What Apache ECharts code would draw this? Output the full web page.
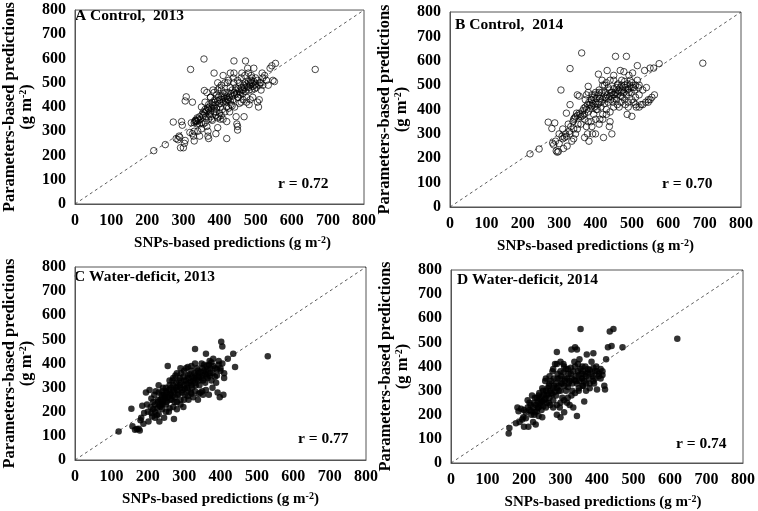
<!DOCTYPE html>
<html><head><meta charset="utf-8">
<script src="https://cdn.jsdelivr.net/npm/echarts@6/dist/echarts.min.js"></script>
<style>html,body{margin:0;padding:0;background:#fff}#c{width:758px;height:511px}</style>
</head><body><div id="c"></div>
<script>
var ticks = [0,100,200,300,400,500,600,700,800];
var panelTitles = ['A Control,  2013','B Control,  2014','C Water-deficit, 2013','D Water-deficit, 2014'];
var rValues = ['r = 0.72','r = 0.70','r = 0.77','r = 0.74'];

var ptsA = [[218,220],[250,245],[272,338],[280,270],[285,265],[288,280],[290,275],[292,232],[295,340],[297,325],[300,232],[303,250],[305,262],[305,425],[308,442],[318,295],[320,555],[322,335],[325,420],[325,290],[328,280],[330,300],[330,260],[332,340],[335,345],[338,330],[340,350],[340,300],[345,280],[345,330],[350,335],[350,400],[355,380],[357,598],[358,468],[360,335],[362,380],[365,460],[368,300],[368,280],[370,270],[370,390],[372,370],[375,440],[375,360],[378,350],[380,410],[382,470],[385,395],[385,540],[388,420],[390,380],[390,290],[392,450],[395,500],[395,315],[398,360],[400,480],[400,430],[402,350],[405,470],[408,390],[410,530],[412,440],[415,460],[418,420],[420,340],[420,270],[422,500],[425,430],[428,380],[430,540],[432,410],[435,470],[438,520],[440,590],[440,540],[442,400],[445,480],[446,360],[448,330],[450,305],[450,320],[452,440],[455,500],[458,460],[460,420],[462,540],[465,470],[468,360],[470,500],[472,590],[475,440],[478,560],[480,480],[482,410],[485,500],[488,530],[490,470],[492,440],[495,560],[498,490],[500,520],[502,480],[505,420],[508,400],[510,430],[512,500],[515,470],[518,540],[520,490],[525,530],[530,510],[535,490],[540,560],[545,570],[548,510],[552,505],[555,580],[665,555],
[330,335],[333,345],[336,340],[338,355],[342,345],[345,360],[348,350],[352,370],[355,365],[358,375],[360,390],[362,360],[365,385],[368,395],[370,410],[372,400],[375,380],[378,395],[380,420],[382,405],[385,380],[387,430],[390,410],[392,395],[395,425],[397,440],[400,415],[402,400],[405,445],[407,430],[410,420],[412,455],[415,435],[417,425],[420,445],[422,430],[425,460],[427,440],[430,425],[432,455],[435,445],[437,430],[440,460],[442,450],[445,470],[447,455],[450,440],[452,475],[455,465],[457,450],[460,480],[462,470],[465,455],[467,490],[470,480],[472,465],[475,495],[477,485],[480,505],[482,470],[485,490],[487,510],[490,500],[492,485],[495,505],[497,475],[500,495],[505,510],[510,490],[515,500],[520,520],[395,355],[405,365],[415,380],[425,395],[435,405],[455,415],[465,430],[475,420],[485,430],[360,420],[370,350],[380,345],[390,365],[400,375],[410,350],[420,400],[430,480],[440,500],[450,510],[460,520],[470,530],[480,540],[490,520],[350,310],[355,330],[365,320],[375,440],[385,460],[395,470],[405,490],[415,500],[425,510]];

var ptsB = [[220,218],[245,238],[270,348],[280,322],[282,262],[285,255],[288,345],[290,270],[292,230],[295,225],[298,228],[300,300],[305,480],[308,290],[310,320],[312,240],[315,285],[318,300],[320,385],[322,250],[325,340],[328,310],[330,420],[330,568],[332,330],[335,270],[338,350],[340,280],[342,365],[345,300],[348,385],[350,460],[352,340],[355,455],[358,380],[362,632],[365,375],[368,405],[370,285],[372,440],[375,330],[375,460],[378,300],[380,495],[382,270],[385,420],[388,350],[390,440],[392,300],[395,380],[398,460],[400,300],[402,400],[405,420],[408,545],[410,470],[412,360],[415,430],[418,520],[420,380],[422,285],[425,500],[428,450],[430,400],[432,560],[435,490],[438,330],[440,350],[442,470],[445,300],[448,430],[450,520],[452,460],[455,618],[458,440],[460,500],[462,480],[465,410],[468,560],[470,470],[472,520],[475,450],[478,555],[480,500],[482,420],[485,618],[487,380],[488,480],[490,410],[492,540],[495,520],[498,470],[500,372],[502,550],[505,430],[508,480],[510,420],[512,410],[515,580],[518,490],[520,460],[525,420],[530,480],[535,560],[538,430],[540,490],[545,440],[550,570],[555,450],[560,570],[562,460],[575,588],[695,590],
[340,360],[345,370],[350,375],[355,385],[360,370],[365,395],[370,380],[372,410],[375,400],[378,420],[380,390],[382,430],[385,405],[388,440],[390,415],[392,425],[395,450],[398,410],[400,430],[402,445],[405,400],[408,460],[410,430],[412,445],[415,410],[418,470],[420,440],[422,455],[425,425],[428,470],[430,445],[432,460],[435,430],[438,480],[440,455],[442,440],[445,470],[448,460],[450,485],[452,445],[455,470],[458,490],[460,460],[462,505],[465,475],[468,490],[470,455],[472,500],[475,480],[478,470],[480,515],[482,490],[485,460],[488,505],[490,485],[492,470],[495,500],[498,490],[500,510],[505,490],[510,500],[515,520],[520,500],[470,430],[480,440],[490,430],[500,440],[510,450],[520,410],[530,420],[545,430],[550,440],[460,420],[450,410],[440,390],[430,380],[420,360],[410,340],[400,360],[390,330],[380,350],[370,360],[360,340],[350,320],[340,320],[330,300],[320,290],[310,280],[300,260],[420,500],[430,510],[440,520],[450,540],[410,480],[400,470],[390,460],[380,470]];

var ptsC = [[120,118],[155,212],[158,140],[165,125],[170,128],[175,130],[178,122],[180,165],[182,175],[185,225],[188,150],[190,195],[195,280],[198,230],[200,200],[202,160],[205,290],[208,220],[210,255],[212,180],[215,240],[218,270],[220,200],[222,285],[225,185],[228,250],[230,310],[232,160],[235,220],[238,270],[240,230],[242,300],[245,175],[248,260],[250,285],[252,240],[255,390],[258,200],[260,310],[262,270],[265,250],[268,330],[270,290],[272,170],[274,240],[276,350],[278,300],[280,210],[282,270],[285,330],[288,310],[290,250],[292,360],[295,290],[298,220],[300,330],[302,270],[305,380],[308,300],[310,350],[312,250],[315,320],[318,280],[320,370],[322,300],[325,260],[328,340],[330,460],[332,310],[335,380],[338,250],[340,360],[342,330],[345,280],[348,400],[350,350],[352,270],[355,370],[358,320],[360,440],[362,390],[365,340],[368,270],[370,410],[372,360],[375,330],[378,300],[380,420],[385,380],[388,320],[390,350],[392,280],[395,410],[398,260],[400,370],[402,490],[405,470],[408,270],[410,340],[420,420],[435,440],[440,385],[530,430],
[215,210],[220,230],[225,215],[228,240],[232,225],[235,250],[238,235],[240,260],[243,245],[245,270],[248,255],[250,230],[253,280],[255,260],[258,290],[260,250],[263,275],[265,300],[268,265],[270,310],[272,285],[275,260],[278,320],[280,290],[282,305],[285,275],[288,340],[290,300],[292,320],[295,280],[298,345],[300,310],[302,295],[305,330],[308,315],[310,290],[312,340],[315,355],[318,325],[320,310],[322,345],[325,330],[328,360],[330,320],[332,350],[335,335],[338,370],[340,345],[342,310],[345,365],[348,340],[350,380],[352,330],[355,395],[358,355],[360,365],[362,345],[365,375],[368,395],[370,350],[372,380],[375,405],[378,360],[380,390],[385,345],[390,375],[395,395],[400,380],[405,400],[410,360],[250,300],[260,330],[270,340],[280,360],[290,380],[300,370],[310,385],[320,390],[330,400],[270,220],[280,240],[290,230],[300,250],[310,265],[320,275],[330,285],[340,275],[350,285],[360,290],[230,190],[240,210],[250,200],[260,215],[220,175],[210,195],[240,285],[230,280]];

var ptsD = [[158,122],[160,145],[178,165],[182,230],[185,215],[188,170],[192,225],[198,190],[200,150],[205,185],[210,260],[212,150],[215,220],[218,240],[220,200],[222,280],[225,170],[228,250],[230,210],[232,160],[235,270],[238,230],[240,195],[242,290],[245,250],[248,220],[250,190],[252,300],[255,260],[258,340],[260,230],[262,280],[265,310],[268,250],[270,330],[272,240],[275,290],[278,380],[280,260],[282,320],[285,410],[288,280],[290,460],[290,200],[292,350],[295,300],[298,230],[300,190],[300,380],[302,330],[305,270],[308,410],[310,210],[312,350],[315,300],[318,250],[320,390],[322,330],[325,240],[328,370],[330,470],[332,300],[335,230],[338,420],[340,480],[342,340],[345,195],[345,470],[348,380],[350,300],[352,430],[355,555],[358,350],[360,400],[362,320],[365,255],[368,370],[370,330],[372,450],[375,390],[378,350],[380,310],[385,420],[388,360],[390,455],[392,330],[395,380],[398,400],[400,305],[405,370],[410,350],[415,380],[420,320],[422,305],[425,430],[430,480],[435,545],[440,485],[445,555],[470,480],[620,515],
[220,215],[225,230],[228,200],[232,240],[235,215],[238,255],[240,230],[243,265],[245,240],[248,275],[250,255],[253,235],[255,285],[258,265],[260,300],[262,250],[265,285],[268,320],[270,270],[272,300],[275,340],[278,285],[280,310],[282,350],[285,295],[288,330],[290,310],[292,370],[295,320],[298,350],[300,300],[302,360],[305,330],[308,375],[310,320],[312,340],[315,390],[318,350],[320,315],[322,370],[325,340],[328,395],[330,350],[332,330],[335,380],[338,345],[340,400],[342,360],[345,330],[348,410],[350,365],[352,340],[355,390],[358,370],[360,350],[362,380],[365,340],[368,400],[370,360],[375,375],[380,385],[385,370],[390,395],[395,350],[400,380],[405,360],[410,390],[415,365],[280,230],[290,240],[300,250],[310,260],[320,270],[330,280],[340,290],[350,310],[360,320],[370,300],[380,330],[390,340],[260,350],[270,360],[280,390],[290,410],[300,420],[310,400],[240,280],[250,310],[230,270],[210,230],[215,250],[200,220],[195,180],[205,210]];

var identity = [[0,0],[800,800]];

var panels = [
  {pts: ptsA, filled: false, grid: {left:72, top:8, width:292, height:196}, title:[75,8], r:[278,176], xShift:26},
  {pts: ptsB, filled: false, grid: {left:450, top:12, width:291, height:195}, title:[455,17], r:[662,176], xShift:0},
  {pts: ptsC, filled: true, grid: {left:68, top:267, width:298, height:193}, title:[74,269], r:[298,431], xShift:0},
  {pts: ptsD, filled: true, grid: {left:451, top:270, width:295, height:196}, title:[457,272], r:[676,436], xShift:12}
];

var FONT = '"Liberation Serif", "Times New Roman", serif';
var grids = [], xAxes = [], yAxes = [], series = [], graphics = [];
panels.forEach(function(p, i){
  grids.push(Object.assign({show:true, borderColor:'#555', borderWidth:1, backgroundColor:'transparent'}, p.grid));
  var axisCommon = {
    type:'value', min:0, max:800, interval:100, gridIndex:i,
    axisLine:{show:true, onZero:false, lineStyle:{color:'#555', width:1}},
    axisTick:{show:false},
    splitLine:{show:false},
    axisLabel:{color:'#000', fontFamily:FONT, fontWeight:'bold', fontSize:16, margin:9,
      formatter:function(v){return ticks.indexOf(v)>=0 ? String(v) : '';}}
  };
  xAxes.push(Object.assign({}, axisCommon, {
    name:'SNPs-based predictions (g m{sup|-2})', nameLocation:'middle', nameGap:31,
    nameTextStyle:{color:'#000', fontFamily:FONT, fontWeight:'bold', fontSize:15, padding:[0,0,0,p.xShift],
      rich:{sup:{fontFamily:FONT, fontWeight:'bold', fontSize:10, padding:[0,0,7,0], color:'#000'}}}
  }));
  yAxes.push(Object.assign({}, axisCommon, {
    name:'Parameters-based predictions\n(g m{sup|-2})', nameLocation:'middle', nameGap:40, nameRotate:90,
    nameTextStyle:{color:'#000', fontFamily:FONT, fontWeight:'bold', fontSize:16.5, lineHeight:17,
      rich:{sup:{fontFamily:FONT, fontWeight:'bold', fontSize:10, padding:[0,0,7,0], color:'#000'}}}
  }));
  series.push({
    type:'line', xAxisIndex:i, yAxisIndex:i, data:identity, symbol:'none', silent:true,
    lineStyle:{color:'#333', width:0.8, type:[3,3]}, z:1
  });
  series.push({
    type:'scatter', xAxisIndex:i, yAxisIndex:i, data:p.pts, symbol:'circle', symbolSize:6.5,
    itemStyle: p.filled ? {color:'#000', borderColor:'#000', borderWidth:0}
                        : {color:'rgba(255,255,255,0)', borderColor:'#000', borderWidth:0.9},
    z:2
  });
  graphics.push({type:'text', left:p.title[0], top:p.title[1],
    style:{text:panelTitles[i], fill:'#000', font:'bold 15.5px '+FONT}});
  graphics.push({type:'text', left:p.r[0], top:p.r[1],
    style:{text:rValues[i], fill:'#000', font:'bold 15.5px '+FONT}});
});

var chart = echarts.init(document.getElementById('c'), null, {renderer:'canvas'});
chart.setOption({
  animation:false,
  backgroundColor:'#fff',
  grid:grids, xAxis:xAxes, yAxis:yAxes, series:series, graphic:graphics
});
</script>
</body></html>
